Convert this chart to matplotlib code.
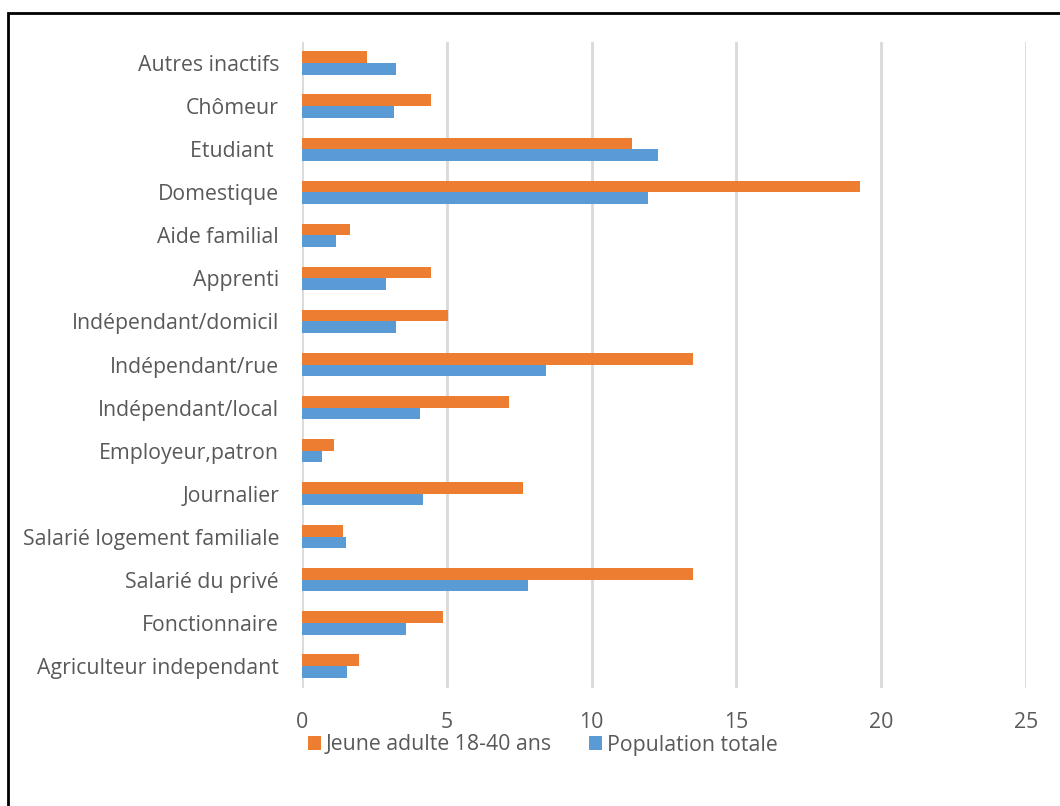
import matplotlib
matplotlib.use("Agg")
import matplotlib.pyplot as plt
from matplotlib.patches import Rectangle

# Categories, from bottom to top as drawn
categories = [
    "Agriculteur independant",
    "Fonctionnaire",
    "Salarié du privé",
    "Salarié logement familiale",
    "Journalier",
    "Employeur,patron",
    "Indépendant/local",
    "Indépendant/rue",
    "Indépendant/domicil",
    "Apprenti",
    "Aide familial",
    "Domestique",
    "Etudiant ",
    "Chômeur",
    "Autres inactifs",
]

# Values (%)
jeunes = [1.97, 4.86, 13.5, 1.40, 7.64, 1.11, 7.14, 13.5, 5.05, 4.44, 1.66, 19.28, 11.4, 4.47, 2.25]
population = [1.56, 3.58, 7.80, 1.52, 4.18, 0.70, 4.09, 8.42, 3.25, 2.89, 1.17, 11.95, 12.28, 3.16, 3.25]

xticks = [0, 5, 10, 15, 20, 25]

orange = "#ED7D31"
blue = "#5B9BD5"
text_color = "#595959"
fs = 15.3

plt.rcParams["font.family"] = ["Open Sans", "DejaVu Sans"]

fig = plt.figure(figsize=(10.6, 8.06), dpi=100)
ax = fig.add_axes([302 / 1060, 1 - 687.5 / 806, (1026 - 302) / 1060, (687.5 - 41.5) / 806])

pos = list(range(len(categories)))
h = 0.27
ax.barh([p + h / 2 for p in pos], jeunes, height=h, color=orange, label="Jeune adulte 18-40 ans", zorder=3)
ax.barh([p - h / 2 for p in pos], population, height=h, color=blue, label="Population totale", zorder=3)

ax.set_xlim(0, 25)
ax.set_ylim(-0.5, len(categories) - 0.5)
ax.set_xticks(xticks)
ax.set_xticklabels([str(t) for t in xticks])
ax.set_yticks(pos)
ax.set_yticklabels(categories)
ax.tick_params(axis="both", length=0, labelsize=fs, colors=text_color)
ax.tick_params(axis="x", pad=17.5)
ax.tick_params(axis="y", pad=16.5)
ax.grid(axis="x", color="#D9D9D9", linewidth=2, zorder=0)
for s in ax.spines.values():
    s.set_visible(False)

leg = fig.legend(
    loc="center", bbox_to_anchor=(543 / 1060, 1 - 745 / 806), ncol=2, frameon=False,
    fontsize=fs, handlelength=0.6, handleheight=0.6, handletextpad=0.25, columnspacing=1.75,
)
for t in leg.get_texts():
    t.set_color(text_color)

# outer border (only left and top edges visible in the original)
fig.patches.append(Rectangle((8 / 1060, -0.1), 1.2, 1 - 13 / 806 + 0.1, transform=fig.transFigure,
                             fill=False, edgecolor="black", linewidth=2))

fig.savefig("out.png", dpi=100)
